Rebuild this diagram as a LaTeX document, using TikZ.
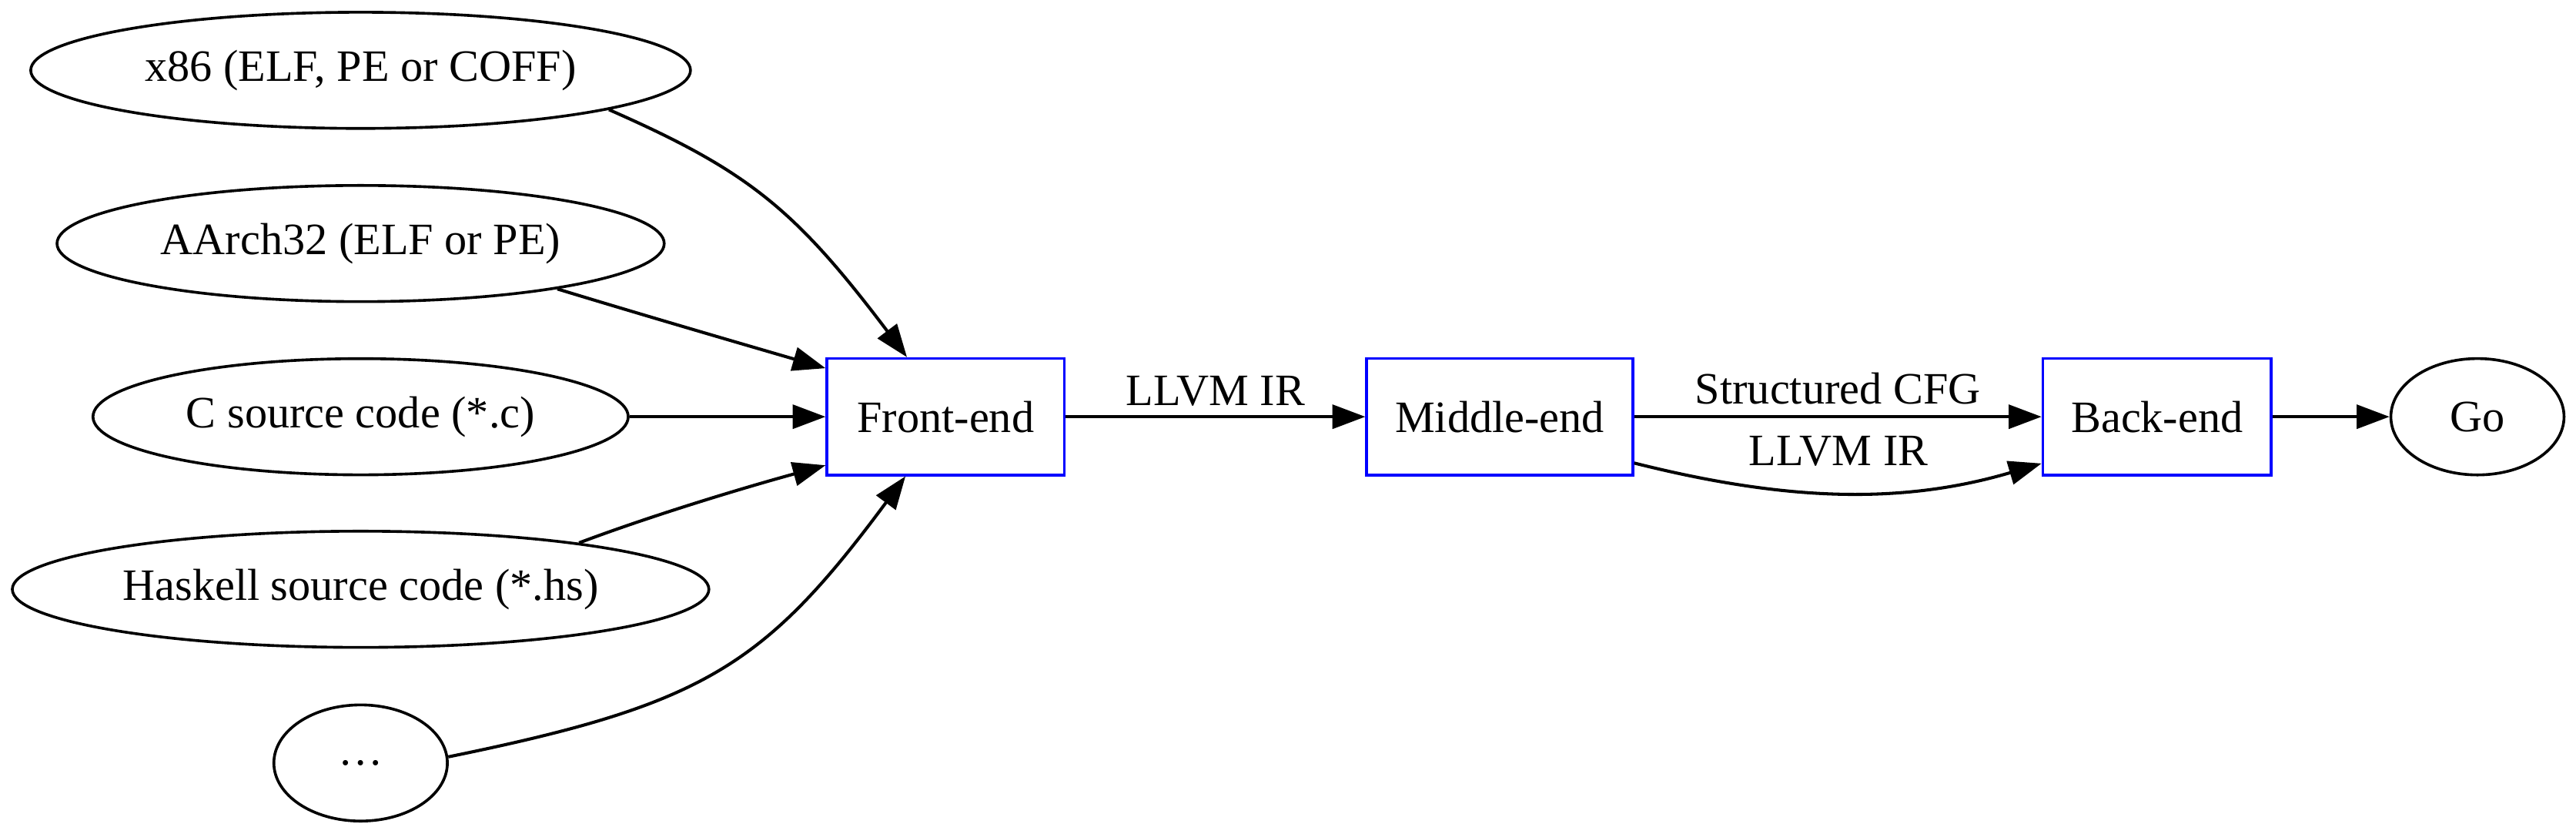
\documentclass[tikz,border=0pt]{standalone}
\usepackage{fontspec}
\setmainfont{Liberation Serif}
\usetikzlibrary{arrows.meta,shapes.geometric}
\begin{document}
\begin{tikzpicture}[x=1pt,y=-1pt,
  every node/.style={font=\fontsize{27.3}{32}\selectfont, inner sep=0pt},
  src/.style={ellipse, draw, line width=1.7pt, minimum height=70.7pt},
  stage/.style={rectangle, draw=blue, line width=1.7pt, minimum height=70.8pt},
  conn/.style={line width=1.9pt, -{Triangle[length=20pt,width=14.5pt]}},
  lbl/.style={anchor=base}]
\useasboundingbox (0,0) rectangle (1568,507.5);
% source nodes
\node[src, minimum width=401.6pt] (x86) at (219.5,42.8) {x86 (ELF, PE or COFF)};
\node[src, minimum width=369.6pt] (aarch) at (219.5,148.2) {AArch32 (ELF or PE)};
\node[src, minimum width=325.8pt] (csrc) at (219.5,253.6) {C source code (*.c)};
\node[src, minimum width=424pt] (hs) at (219.5,358.6) {Haskell source code (*.hs)};
\node[src, minimum width=105.6pt] (dots) at (219.5,464.3) {…};
% stages
\node[stage, minimum width=144.5pt] (fe) at (575.6,253.6) {Front-end};
\node[stage, minimum width=162pt] (me) at (912.9,253.6) {Middle-end};
\node[stage, minimum width=139pt] (be) at (1313,253.6) {Back-end};
\node[src, minimum width=105.4pt, minimum height=70.8pt] (go) at (1508,253.6) {Go};
% edges into front-end
\draw[conn] (x86.-9.4) .. controls (455.6,104.1) and (483.9,127.2) .. (fe.123.8);
\draw[conn] (aarch.-13) .. controls (394,192.5) and (449,208.5) .. (fe.158.8);
\draw[conn] (csrc) -- (fe);
\draw[conn] (hs.12.8) .. controls (397,313.6) and (451,297.3) .. (fe.-158.8);
\draw[conn] (dots.4.6) .. controls (427.7,428.9) and (465,406) .. (fe.-124);
% pipeline
\draw[conn] (fe) -- node[lbl, midway, yshift=7.1pt] {LLVM IR} (me);
\draw[conn] (me) -- node[lbl, midway, yshift=7.6pt] {Structured CFG} (be);
\draw[conn] (me.-19.8) .. controls (1083.5,304.1) and (1155,307.9) .. node[lbl, pos=0.5, yshift=16.5pt] {LLVM IR} (be.-158.3);
\draw[conn] (be) -- (go);
\end{tikzpicture}
\end{document}
